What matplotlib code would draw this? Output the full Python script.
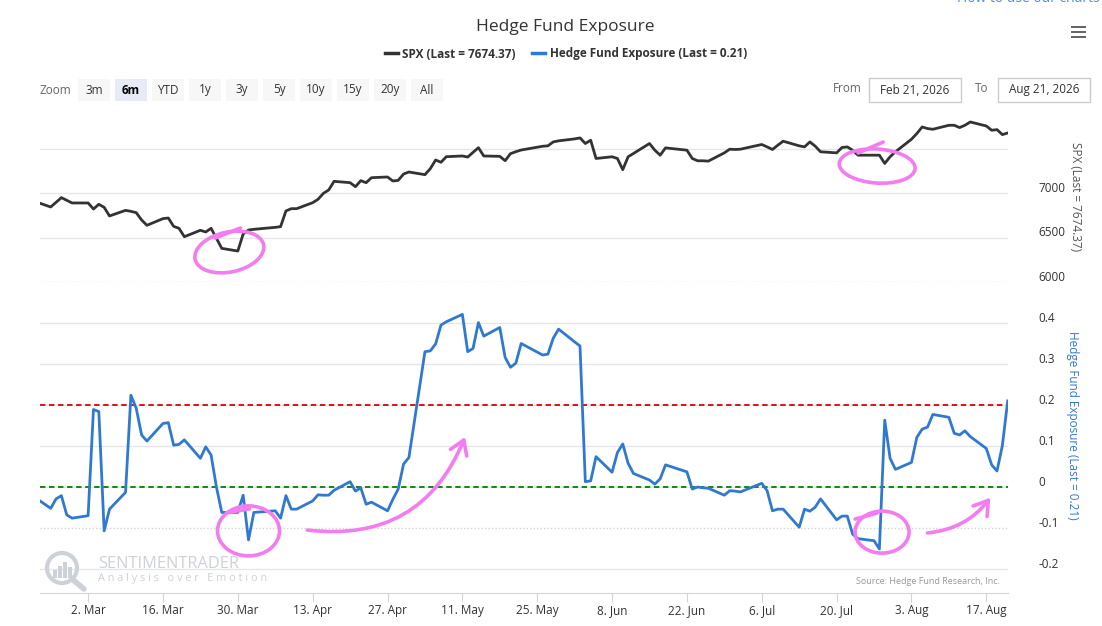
import matplotlib
matplotlib.use('Agg')
import matplotlib.pyplot as plt
import matplotlib.dates as mdates
import matplotlib.transforms as mtransforms
from matplotlib.patches import Ellipse, Rectangle, Circle
from matplotlib.lines import Line2D
from matplotlib.ticker import FixedLocator, FuncFormatter
import pandas as pd

plt.rcParams['font.family'] = ['Open Sans', 'DejaVu Sans']
plt.rcParams['axes.unicode_minus'] = False

W, H = 1102, 626

# trading days Feb 20 .. Aug 21, 2026 (US market holidays removed)
holidays = ['2026-04-03', '2026-05-25', '2026-06-19', '2026-07-03']

# SPX close, one value per trading day, month by month
spx_feb = [6905, 6843, 6895, 6948, 6918, 6888]
spx_mar = [6888, 6820, 6873, 6839, 6742, 6805, 6794, 6779, 6697, 6637, 6712,
           6719, 6625, 6603, 6509, 6581, 6562, 6603, 6491, 6378, 6348, 6539]
spx_apr = [6584, 6592, 6614, 6622, 6798, 6824, 6824, 6891, 6929, 6996, 7034,
           7131, 7116, 7071, 7139, 7116, 7172, 7180, 7135, 7142, 7213]
spx_may = [7236, 7206, 7273, 7371, 7345, 7408, 7416, 7404, 7457, 7509, 7416,
           7412, 7363, 7442, 7464, 7483, 7525, 7530, 7574, 7586]
spx_jun = [7608, 7619, 7556, 7593, 7388, 7407, 7388, 7262, 7407, 7444, 7556,
           7481, 7425, 7507, 7481, 7388, 7362, 7362, 7358, 7451, 7492]
spx_jul = [7489, 7492, 7545, 7518, 7489, 7537, 7582, 7530, 7518, 7574, 7526,
           7463, 7451, 7511, 7518, 7481, 7425, 7425, 7425, 7332, 7407, 7463]
spx_aug = [7604, 7668, 7742, 7724, 7716, 7761, 7761, 7735, 7761, 7798, 7753,
           7705, 7712, 7656, 7674.37]

# Hedge fund exposure, same days
hfe_feb = [-0.025, -0.052, -0.029, -0.021, -0.068, -0.076]
hfe_mar = [-0.070, 0.189, 0.184, -0.107, -0.054, -0.013, 0.224, 0.192, 0.127,
           0.112, 0.155, 0.157, 0.102, 0.104, 0.115, 0.070, 0.098, 0.078,
           0.000, -0.062, -0.062, -0.020]
hfe_apr = [-0.129, -0.062, -0.058, -0.076, -0.021, -0.054, -0.054, -0.034,
           -0.019, -0.020, -0.020, -0.008, 0.013, -0.010, -0.002, -0.042,
           -0.037, -0.058, -0.030, -0.005, 0.056]
hfe_may = [0.072, 0.330, 0.332, 0.349, 0.395, 0.403, 0.421, 0.330, 0.338,
           0.401, 0.368, 0.389, 0.316, 0.292, 0.302, 0.350, 0.322, 0.324,
           0.363, 0.385]
hfe_jun = [0.354, 0.344, 0.013, 0.015, 0.074, 0.036, 0.084, 0.105, 0.058,
           0.033, 0.017, 0.007, 0.020, 0.054, 0.037, -0.005, 0.000, -0.002,
           -0.003, -0.020, -0.009]
hfe_jul = [-0.010, -0.012, 0.009, -0.009, -0.058, -0.054, -0.054, -0.098,
           -0.054, -0.059, -0.049, -0.029, -0.080, -0.071, -0.071, -0.115,
           -0.126, -0.131, -0.151, 0.163, 0.070, 0.043]
hfe_aug = [0.060, 0.121, 0.141, 0.146, 0.177, 0.170, 0.131, 0.127, 0.137,
           0.123, 0.094, 0.054, 0.039, 0.101, 0.21]

upper_level = 0.2
lower_level = 0.0

spx_ticks = [6000, 6500, 7000, 7500]
hfe_ticks = [-0.2, -0.1, 0.0, 0.1, 0.2, 0.3, 0.4]
x_ticks = ['2026-03-02', '2026-03-16', '2026-03-30', '2026-04-13', '2026-04-27',
           '2026-05-11', '2026-05-25', '2026-06-08', '2026-06-22', '2026-07-06',
           '2026-07-20', '2026-08-03', '2026-08-17']
zoom_buttons = ['3m', '6m', 'YTD', '1y', '3y', '5y', '10y', '15y', '20y', 'All']

days = pd.bdate_range('2026-02-20', '2026-08-21')
days = days[~days.isin(pd.to_datetime(holidays))]
spx = spx_feb + spx_mar + spx_apr + spx_may + spx_jun + spx_jul + spx_aug
hfe = hfe_feb + hfe_mar + hfe_apr + hfe_may + hfe_jun + hfe_jul + hfe_aug
assert len(days) == len(spx) == len(hfe)

BLUE = '#3079d0'
DARK = '#333333'
PINK = '#f37cf0'
GRID = '#e6e6e6'
MARK = '#cdd1d8'


def fx(px):
    return px / W


def fy(py):
    return 1 - py / H


# pixel coords measured from the top-left corner (figure saved at dpi 100)
px_trans = mtransforms.Affine2D().scale(1, -1).translate(0, H)

fig = plt.figure(figsize=(W / 100, H / 100), dpi=100)
ax1 = fig.add_axes([fx(40), fy(282), (1007.7 - 40) / W, 178 / H])
ax2 = fig.add_axes([fx(40), fy(593), (1007.7 - 40) / W, 290.5 / H])

xmin, xmax = pd.Timestamp('2026-02-21'), pd.Timestamp('2026-08-21')

# ---- SPX panel
ax1.plot(days, spx, color=DARK, lw=2, zorder=3, solid_joinstyle='round')
ax1.set_xlim(xmin, xmax)
ax1.set_ylim(6000, 8000)
ax1.yaxis.set_major_locator(FixedLocator(spx_ticks))
ax1.yaxis.set_major_formatter(FuncFormatter(lambda v, p: '' if v == 7500 else '%d' % v))

# ---- exposure panel
ax2.axhline(upper_level, color='#dd0000', lw=1.3, ls=(0, (3, 2)), zorder=2)
ax2.axhline(lower_level, color='#008000', lw=1.3, ls=(0, (3, 2)), zorder=2)
ax2.plot(days, hfe, color=BLUE, lw=2, zorder=3, solid_joinstyle='round')
ax2.set_xlim(xmin, xmax)
ax2.set_ylim(-0.2585, 0.45)
ax2.yaxis.set_major_locator(FixedLocator(hfe_ticks))
ax2.yaxis.set_major_formatter(FuncFormatter(lambda v, p: '%g' % round(v, 2)))

shift = mtransforms.ScaledTranslation(0, 0.06, fig.dpi_scale_trans)
for ax in (ax1, ax2):
    for s in ax.spines.values():
        s.set_visible(False)
    ax.yaxis.tick_right()
    ax.tick_params(axis='y', length=0, pad=22, labelsize=8.5, labelcolor=DARK)
    ax.grid(axis='y', color=GRID, lw=1, zorder=0)
    for lab in ax.get_yticklabels():
        lab.set_transform(lab.get_transform() + shift)
    ax.set_axisbelow(True)

# dotted grid lines (panel separator and -0.1)
for line, v in zip(ax1.yaxis.get_gridlines(), spx_ticks):
    if v == 6000:
        line.set_linestyle((0, (1, 1.5)))
        line.set_color('#cfcfcf')
for line, v in zip(ax2.yaxis.get_gridlines(), hfe_ticks):
    if abs(v + 0.1) < 1e-9:
        line.set_linestyle((0, (1, 1.5)))
        line.set_color('#d5d5d5')

ax1.set_xticks([])
ax2.spines['bottom'].set_visible(True)
ax2.spines['bottom'].set_color('#ccd6eb')
ax2.set_xticks(pd.to_datetime(x_ticks))
ax2.xaxis.set_major_formatter(mdates.DateFormatter('%-d. %b'))
ax2.tick_params(axis='x', length=6.5, color='#ccd6eb', pad=1.5, labelsize=8.5,
                labelcolor=DARK)

fig.text(fx(1075), fy(197), 'SPX (Last = 7674.37)', rotation=270, ha='center',
         va='center', fontsize=8.5, color='#555555')
fig.text(fx(1072), fy(425), 'Hedge Fund Exposure (Last = 0.21)', rotation=270,
         ha='center', va='center', fontsize=8.5, color=BLUE)


# ---- hand drawn marks (pink); sizes and tails in pixels around a data point
def anchor(ax, when, val):
    return mtransforms.ScaledTranslation(mdates.date2num(pd.Timestamp(when)), val, ax.transData)


def ring(ax, when, val, w, h, ang=0, tail=None):
    tr = anchor(ax, when, val)
    ax.add_patch(Ellipse((0, 0), w, h, angle=ang, transform=tr, fill=False,
                         ec=PINK, lw=2.6, zorder=5, clip_on=False))
    if tail:
        ax.add_line(Line2D([tail[0], tail[2]], [tail[1], tail[3]], transform=tr,
                           color=PINK, lw=2.6, zorder=5, clip_on=False,
                           solid_capstyle='round'))


def swoosh(ax, a, b, rad):
    ax.annotate('', xy=(pd.Timestamp(b[0]), b[1]), xytext=(pd.Timestamp(a[0]), a[1]),
                arrowprops=dict(arrowstyle='->,head_length=0.7,head_width=0.45',
                                connectionstyle='arc3,rad=%s' % rad, color=PINK,
                                lw=2.6, mutation_scale=14, shrinkA=0, shrinkB=0),
                zorder=5)


ring(ax1, '2026-03-28 10:00', 6337, 70, 40, 12, tail=(-14, 14, 11, 24))
ring(ax1, '2026-07-27 14:00', 7303, 76, 34, -4, tail=(-19, 13, 6, 24))
ring(ax2, '2026-04-01', -0.107, 62, 50, tail=(-22, 18, 1, 22))
ring(ax2, '2026-07-28 12:00', -0.110, 54, 42, tail=(-27, 13, -5, 19))
swoosh(ax2, ('2026-04-12', -0.105), ('2026-05-11 12:00', 0.122), 0.38)
swoosh(ax2, ('2026-08-06', -0.112), ('2026-08-17 18:00', -0.026), 0.22)

# ---- header
fig.text(fx(565), fy(27), 'Hedge Fund Exposure', ha='center', va='center',
         fontsize=12.5, color=DARK)
handles = [Line2D([], [], color=DARK, lw=2.5), Line2D([], [], color=BLUE, lw=2.5)]
fig.legend(handles, ['SPX (Last = 7674.37)', 'Hedge Fund Exposure (Last = 0.21)'],
           loc='center', bbox_to_anchor=(fx(566), fy(54)), ncol=2, frameon=False,
           prop={'weight': 'bold', 'size': 8.5}, handlelength=1.1, handletextpad=0.4,
           columnspacing=1.4, labelcolor=DARK)
fig.text(fx(1100), fy(-1), 'How to use our charts', ha='right', va='center',
         fontsize=10, color='#4a90d9')
for yb in (27, 32, 37):
    fig.add_artist(Rectangle((1071, yb - 1.3), 15, 2.6, transform=px_trans,
                             fc='#666666', ec='none'))

fig.text(fx(40), fy(90), 'Zoom', ha='left', va='center', fontsize=8.5, color='#666666')
for i, lab in enumerate(zoom_buttons):
    cx = 94 + 37 * i
    sel = lab == '6m'
    fig.add_artist(Rectangle((cx - 16, 79), 32, 22, transform=px_trans,
                             fc='#e6ebf5' if sel else '#f7f7f7', ec='none'))
    fig.text(fx(cx), fy(90), lab, ha='center', va='center', fontsize=8.5,
             color='#000000' if sel else DARK, weight='bold' if sel else 'normal')

fig.text(fx(847), fy(89), 'From', ha='center', va='center', fontsize=8.5, color='#666666')
fig.text(fx(982), fy(89), 'To', ha='center', va='center', fontsize=8.5, color='#666666')
for x0, lab in ((869, 'Feb 21, 2026'), (998, 'Aug 21, 2026')):
    fig.add_artist(Rectangle((x0, 78), 92, 24, transform=px_trans,
                             fc='white', ec='#cccccc', lw=1))
    fig.text(fx(x0 + 46), fy(90), lab, ha='center', va='center', fontsize=8.5,
             color=DARK)

# ---- watermark and source
fig.add_artist(Circle((62, 568), 15, transform=px_trans, fill=False, ec=MARK, lw=3))
fig.add_artist(Line2D([72, 84], [579, 589], transform=px_trans, color=MARK, lw=4,
                      solid_capstyle='round'))
for bx, bh in ((53, 8), (58, 12), (63, 16), (68, 11)):
    fig.add_artist(Rectangle((bx, 578 - bh), 4, bh, transform=px_trans, fc=MARK, ec='none'))
fig.text(fx(98), fy(564), 'SENTIMENTRADER', ha='left', va='center', fontsize=11.8,
         color=MARK)
fig.text(fx(98), fy(579), 'A n a l y s i s   o v e r   E m o t i o n', ha='left',
         va='center', fontsize=7.8, color=MARK)
fig.text(fx(1000), fy(581), 'Source: Hedge Fund Research, Inc.', ha='right',
         va='center', fontsize=6.5, color='#999999')

fig.savefig('out.png', dpi=100)
